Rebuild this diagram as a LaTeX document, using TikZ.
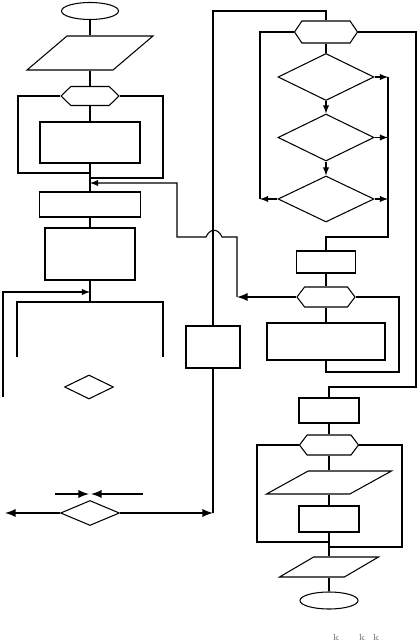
\documentclass[tikz,border=0pt]{standalone}
\usetikzlibrary{shapes.geometric,shapes.symbols}
\begin{document}
\begin{tikzpicture}[
    x=0.02cm, y=-0.02cm,
    line width=0.6pt,
    term/.style={ellipse, draw, inner sep=0pt},
    io/.style={trapezium, draw, inner sep=1pt, trapezium stretches=true},
    proc/.style={rectangle, draw, inner sep=0pt},
    loophead/.style={signal, signal to=west and east, signal pointer angle=106, draw, inner sep=0pt},
    decision/.style={diamond, draw, inner sep=0pt},
    arrow/.style={-latex},
    boldarrow/.style={-latex, line width=1.1pt},
    faint/.style={font=\fontsize{5pt}{5pt}\selectfont, text=black!55, inner sep=0pt, anchor=base}
]
    \useasboundingbox (0,0) rectangle (417,641);

    % left column
    \node [term, minimum width=1.14cm, minimum height=0.34cm] (start) at (90,11) {};
    \node [io, trapezium left angle=49, trapezium right angle=131, minimum width=2.52cm, minimum height=0.68cm] (in1) at (90,53) {};
    \node [loophead, signal pointer angle=88, minimum width=1.16cm, minimum height=0.38cm] (hexA) at (90,96) {};
    \node [proc, minimum width=2.0cm, minimum height=0.82cm] (procA) at (90,142.5) {};
    \node [proc, minimum width=2.02cm, minimum height=0.5cm] (procB) at (90,204.5) {};
    \node [proc, minimum width=1.8cm, minimum height=1.04cm] (procC) at (90,254) {};
    \node [decision, minimum width=0.98cm, minimum height=0.48cm] (decA) at (89,387) {};
    \node [decision, minimum width=1.18cm, minimum height=0.5cm] (decB) at (90,513) {};
    \node [proc, minimum width=1.08cm, minimum height=0.84cm] (procD) at (213,347) {};

    % right column
    \node [loophead, signal pointer angle=112, minimum width=1.26cm, minimum height=0.44cm] (hexB) at (326,32) {};
    \node [decision, minimum width=1.92cm, minimum height=0.94cm] (decC) at (326,77) {};
    \node [decision, minimum width=1.92cm, minimum height=0.94cm] (decD) at (326,137.5) {};
    \node [decision, minimum width=1.92cm, minimum height=0.92cm] (decE) at (326,199) {};
    \node [proc, minimum width=1.18cm, minimum height=0.44cm] (procE) at (326,262) {};
    \node [loophead, minimum width=1.16cm, minimum height=0.4cm] (hexC) at (326,297) {};
    \node [proc, minimum width=2.36cm, minimum height=0.74cm] (procF) at (326,341.5) {};
    \node [proc, minimum width=1.2cm, minimum height=0.5cm] (procG) at (329,410.5) {};
    \node [loophead, minimum width=1.18cm, minimum height=0.4cm] (hexD) at (329,445) {};
    \node [io, trapezium left angle=45, trapezium right angle=135, minimum width=2.5cm, minimum height=0.46cm] (in2) at (329,482.5) {};
    \node [proc, minimum width=1.2cm, minimum height=0.52cm] (procH) at (329,519) {};
    \node [io, trapezium left angle=42, trapezium right angle=138, minimum width=1.98cm, minimum height=0.4cm] (out1) at (329,567) {};
    \node [term, minimum width=1.16cm, minimum height=0.34cm] (stop) at (329,600.5) {};

    \node [faint] (kA) at (336,640) {k};
    \node [faint] (kB) at (362,640) {k};
    \node [faint] (kC) at (376,640) {k};

    % corners of the loops
    \coordinate (loopAL) at (18,173);
    \coordinate (loopAR) at (163,178);
    \coordinate (joinA) at (90,173);
    \coordinate (joinB) at (90,178);
    \coordinate (backA) at (90,183);
    \coordinate (turnC) at (237,297);
    \coordinate (fork) at (90,302);
    \coordinate (forkL) at (17,357);
    \coordinate (forkR) at (163,357);
    \coordinate (entry) at (3,397);
    \coordinate (entryEnd) at (90,292);
    \coordinate (meetL) at (89,494);
    \coordinate (meetR) at (91,494);
    \coordinate (pushL) at (55,494);
    \coordinate (pushR) at (143,494);
    \coordinate (exitL) at (5,513);
    \coordinate (exitR) at (213,513);
    \coordinate (top) at (213,11);
    \coordinate (backE) at (260,199);
    \coordinate (sideX) at (388,237);
    \coordinate (exitB) at (416,387);
    \coordinate (loopC) at (399,372);
    \coordinate (loopDL) at (257,542);
    \coordinate (loopDR) at (402,547);

    \draw (start) -- (in1);
    \draw (in1) -- (hexA);
    \draw (hexA) -- (procA);
    \draw (hexA.west) -| (loopAL) -- (joinA);
    \draw (hexA.east) -| (loopAR) -- (joinB);
    \draw (procA) -- (procB);
    \draw (procB) -- (procC);
    \draw (procC) -- (fork);
    \draw (forkL) -- (forkL |- fork) -- (forkR |- fork) -- (forkR);
    \draw [arrow] (entry) |- (entryEnd);

    \draw [boldarrow] (pushL) -- (meetL);
    \draw [boldarrow] (pushR) -- (meetR);
    \draw [boldarrow] (decB.west) -- (exitL);
    \draw [boldarrow] (decB.east) -- (exitR);
    \draw (exitR) -- (procD);
    \draw (procD) -- (top) -| (hexB.north);

    \draw (hexB) -- (decC);
    \draw [arrow] (decC) -- (decD);
    \draw [arrow] (decD) -- (decE);
    \draw (hexB.west) -| (backE);
    \draw [arrow] (decE.west) -- (backE);
    \draw [arrow] (decC.east) -- (decC.east -| sideX);
    \draw [arrow] (decD.east) -- (decD.east -| sideX);
    \draw [arrow] (decE.east) -- (decE.east -| sideX);
    \draw (decC.east -| sideX) -- (sideX) -| (procE.north);
    \draw (hexB.east) -| (exitB) -| (procG.north);

    \draw (procE) -- (hexC);
    \draw (hexC) -- (procF);
    \draw (hexC.east) -| (loopC) -| (procF.south);
    \draw [boldarrow] (hexC.west) -- (turnC);
    % hop over the long line
    \draw [arrow] (turnC) -- (237,237) -- (222,237) .. controls (218,228) and (210,228) .. (206,237) -- (177,237) |- (backA);

    \draw (procG) -- (hexD);
    \draw (hexD) -- (in2);
    \draw (in2) -- (procH);
    \draw (procH) -- (out1);
    \draw (out1) -- (stop);
    \draw (hexD.west) -| (loopDL) -- (loopDL -| procH);
    \draw (hexD.east) -| (loopDR) -- (loopDR -| procH);
\end{tikzpicture}
\end{document}
